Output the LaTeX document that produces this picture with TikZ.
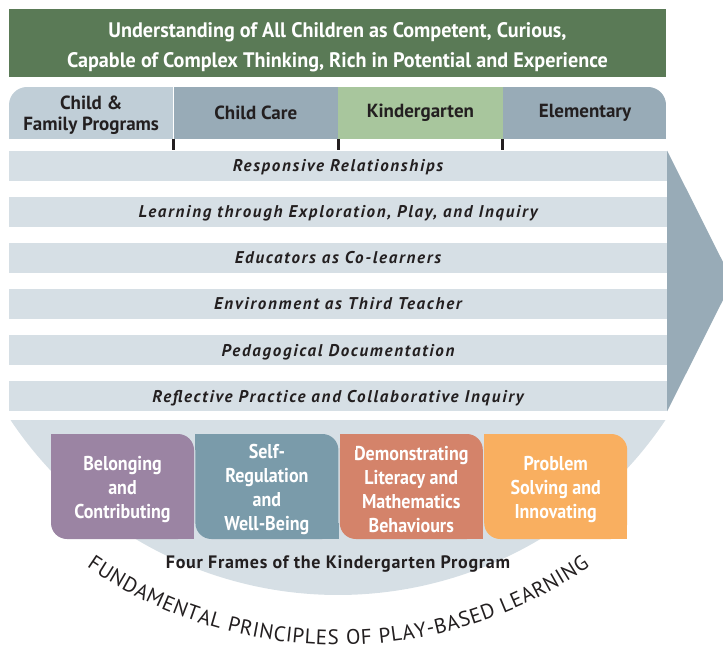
\documentclass[tikz,border=0pt]{standalone}
\usepackage{fontspec}
\usepackage{tikz}
\usetikzlibrary{positioning,calc,decorations.text}
\setmainfont{PT Sans}
\newfontfamily\titlefont[FakeStretch=0.96]{PT Sans}
\newfontfamily\condfont[FakeStretch=0.9]{PT Sans}
\newfontfamily\bandfont[LetterSpace=10]{PT Sans}
\newfontfamily\captionfont[LetterSpace=4]{PT Sans}
\newfontfamily\arcfont[LetterSpace=4]{PT Sans}
\definecolor{titlegreen}{HTML}{5A7A56}
\definecolor{tablight}{HTML}{C0CED7}
\definecolor{tabdark}{HTML}{98ABB7}
\definecolor{kindergreen}{HTML}{A8C69D}
\definecolor{bandgray}{HTML}{D6DFE5}
\definecolor{belongcol}{HTML}{9B84A3}
\definecolor{selfcol}{HTML}{7A9BAA}
\definecolor{literacycol}{HTML}{D4836A}
\definecolor{problemcol}{HTML}{F9AF60}
\definecolor{inkdark}{HTML}{231F20}
\tikzset{
    title-box/.style = {rectangle, fill=titlegreen, text=white, inner sep=0pt, minimum width=657pt, minimum height=68pt, align=center, font=\titlefont\bfseries\fontsize{21}{30}\selectfont},
    tab-box/.style = {rectangle, inner sep=0pt, minimum width=164.25pt, minimum height=52pt, align=center, text=inkdark, font=\bfseries\fontsize{19}{21}\selectfont},
    band-box/.style = {rectangle, fill=bandgray, inner sep=0pt, minimum width=658pt, minimum height=30pt, text height=12pt, text depth=0pt, text=inkdark, font=\bandfont\bfseries\itshape\fontsize{17}{18}\selectfont},
    frame-box/.style = {rectangle, rounded corners=16pt, inner sep=0pt, minimum width=143pt, minimum height=105pt, align=center, text=white, font=\condfont\bfseries\fontsize{20}{24}\selectfont},
    frame-title/.style = {text=inkdark, font=\captionfont\bfseries\fontsize{18}{20}\selectfont},
    tick-mark/.style = {draw=inkdark, line width=3pt},
}
\begin{document}
\begin{tikzpicture}[x=1pt,y=1pt]
\useasboundingbox (0,0) rectangle (723,-652);
\node[title-box] (title) at (337.5,-43) {\rule{0pt}{24pt}Understanding of All Children as Competent, Curious,\\Capable of Complex Thinking, Rich in Potential and Experience};

\begin{scope}
\clip[rounded corners=18pt] (9,-87) rectangle (666,-170);
\node[tab-box, fill=tablight] (family) at (91.125,-113) {\rule{0pt}{18pt}Child \&\\Family Programs};
\node[tab-box, fill=tabdark, right=0pt of family] (care) {Child Care};
\node[tab-box, fill=kindergreen, right=0pt of care] (kinder) {Kindergarten};
\node[tab-box, fill=tabdark, right=0pt of kinder] (elem) {Elementary};
\end{scope}
\foreach \t in {family,care,kinder}
    \draw[tick-mark] (\t.south east) -- ++(0,-11);

\coordinate (ctr) at (338,-201);
\fill[bandgray] ($(ctr)+(213.8:394)$) arc[start angle=213.8, end angle=326.2, radius=394] -- cycle;

\foreach \i/\txt in {0/Responsive Relationships, 1/{Learning through Exploration, Play, and Inquiry}, 2/Educators as Co-learners, 3/Environment as Third Teacher, 4/Pedagogical Documentation, 5/Reflective Practice and Collaborative Inquiry}
    \node[band-box] (band\i) at (338,-166-46*\i) {\txt};
\fill[tabdark] (band0.north east) -- (723,-262) -- (723,-300) -- (band5.south east) -- cycle;

\node[frame-box, fill=belongcol] (belong) at (122.5,-486.5) {\rule{0pt}{20pt}Belonging\\and\\Contributing};
\node[frame-box, fill=selfcol, right=1pt of belong] (selfreg) {\rule{0pt}{20pt}Self-\\Regulation\\and\\Well-Being};
\node[frame-box, fill=literacycol, right=1pt of selfreg] (literacy) {\rule{0pt}{20pt}Demonstrating\\Literacy and\\Mathematics\\Behaviours};
\node[frame-box, fill=problemcol, right=1pt of literacy] (problem) {\rule{0pt}{20pt}Problem\\Solving and\\Innovating};
\foreach \f/\c in {belong/belongcol, selfreg/selfcol, literacy/literacycol, problem/problemcol} {
    \fill[\c] (\f.north west) rectangle ++(16,-16);
    \fill[\c] (\f.south east) rectangle ++(-16,16);
}
\node[frame-title] (frames) at (338,-564) {Four Frames of the Kindergarten Program};

\path[decorate, decoration={text along path, text align={fit to path}, text={|\arcfont\fontsize{21}{22}\selectfont\color{inkdark}|FUNDAMENTAL PRINCIPLES OF PLAY-BASED LEARNING}}]
    ($(ctr)+(235.5:444)$) arc[start angle=235.5, end angle=304.5, radius=444];
\end{tikzpicture}
\end{document}
